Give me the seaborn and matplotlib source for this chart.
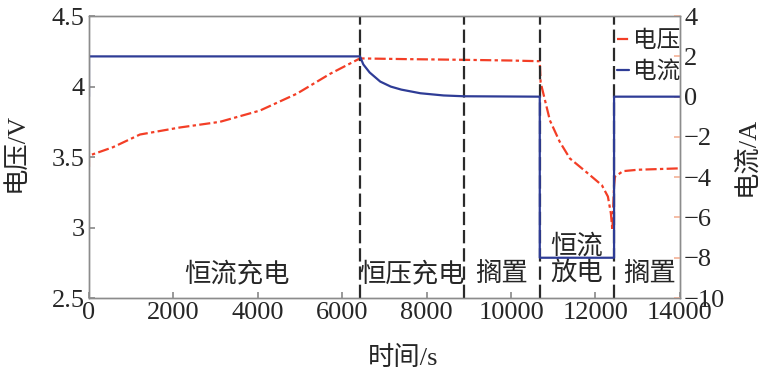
import matplotlib
matplotlib.use('Agg')
import numpy as np
import pandas as pd
import matplotlib.pyplot as plt
from matplotlib import font_manager
import seaborn as sns

# 数据
volt_time = [0, 0, 569, 1208, 2156, 3103, 4051, 4927, 5709, 6420,
             7500, 8880, 10000, 10680,
             10700, 10920, 11150, 11394, 11797, 12152, 12294, 12365, 12400,
             12440, 12460, 12650, 13000, 13500, 14000]
volt_value = [3.43, 3.51, 3.57, 3.66, 3.71, 3.75, 3.83, 3.95, 4.09, 4.20,
              4.195, 4.19, 4.185, 4.18,
              4.03, 3.76, 3.61, 3.49, 3.39, 3.30, 3.22, 3.10, 2.98,
              3.30, 3.36, 3.40, 3.41, 3.415, 3.42]

curr_time = [0, 0, 6420, 6500, 6650, 6900, 7150, 7400, 7850, 8400, 8880,
             10680, 10680, 12440, 12440, 14000]
curr_value = [0.0, 2.0, 2.0, 1.6, 1.2, 0.75, 0.5, 0.35, 0.17, 0.06, 0.02,
              0.0, -8.0, -8.0, 0.0, 0.0]

stage_bounds = [6420, 8880, 10680, 12440]
stage_labels = ['恒流充电', '恒压充电', '搁置', '恒流\n放电', '搁置']
stage_label_x = [3500, 7650, 9780, 11560, 13290]

volt_df = pd.DataFrame({'t': volt_time, 'v': volt_value})
curr_df = pd.DataFrame({'t': curr_time, 'i': curr_value})

# 找一个可用的衬线字体
installed = {f.name for f in font_manager.fontManager.ttflist}
serif = 'DejaVu Serif'
for name in ['Liberation Serif', 'Times New Roman', 'Nimbus Roman', 'DejaVu Serif']:
    if name in installed:
        serif = name
        break

sns.set_theme(style='ticks')
plt.rcParams['font.family'] = [serif, 'Noto Sans CJK SC']
plt.rcParams['axes.unicode_minus'] = True

red = '#f33e26'
blue = '#2e3c96'
gray = '#8c8c8c'

fig = plt.figure(figsize=(7.63, 3.75), dpi=100)
ax = fig.add_axes([0.1166, 0.2053, 0.7745, 0.7517])
ax2 = ax.twinx()

sns.lineplot(data=volt_df, x='t', y='v', ax=ax, color=red, lw=1.6,
             linestyle=(0, (5, 1.5, 1.5, 1.5)), estimator=None, sort=False,
             label='电压', legend=False)
sns.lineplot(data=curr_df, x='t', y='i', ax=ax2, color=blue, lw=1.6,
             estimator=None, sort=False, label='电流', legend=False)

for b in stage_bounds:
    ax.axvline(b, color='#2a2a2a', lw=1.6, linestyle=(0, (6, 2.2)), zorder=5)

for lab, x in zip(stage_labels, stage_label_x):
    ax.text(x, 2.585, lab, ha='center', va='bottom', fontsize=19,
            linespacing=1.15, zorder=6)

ax.set_xlim(0, 14000)
ax.set_ylim(2.5, 4.5)
ax2.set_ylim(-10, 4)
ax.set_xticks([0, 2000, 4000, 6000, 8000, 10000, 12000, 14000])
ax.set_yticks([2.5, 3, 3.5, 4, 4.5])
ax.set_yticklabels(['2.5', '3', '3.5', '4', '4.5'])
ax2.set_yticks([-10, -8, -6, -4, -2, 0, 2, 4])
ax2.set_yticklabels(['\u221210', '\u22128', '\u22126', '\u22124', '\u22122', '0', '2', '4'])

ax.set_xlabel('时间/s', fontsize=19)
ax.set_ylabel('电压/V', fontsize=19)
ax2.set_ylabel('电流/A', fontsize=19)
ax.xaxis.set_label_coords(0.531, -0.213)
ax.xaxis.label.set_va('center')
ax.yaxis.set_label_coords(-0.125, 0.518)
ax.yaxis.label.set_va('center')
ax2.yaxis.set_label_coords(1.112, 0.504)
ax2.yaxis.label.set_va('center')

ax.tick_params(axis='both', direction='in', length=4, color=gray,
               labelsize=19, pad=3)
ax2.tick_params(axis='y', direction='in', length=4, color='#f4b59a',
                labelsize=19, pad=3)
for a in (ax, ax2):
    for s in a.spines.values():
        s.set_color(gray)
        s.set_linewidth(1.0)

h1, l1 = ax.get_legend_handles_labels()
h2, l2 = ax2.get_legend_handles_labels()
ax2.legend(h1 + h2, l1 + l2, loc='upper right', bbox_to_anchor=(1.012, 0.975),
           frameon=False, fontsize=17, handlelength=0.5, handletextpad=0.15,
           borderaxespad=0.0, labelspacing=0.4, borderpad=0.3)

fig.savefig('out.png', dpi=100)
